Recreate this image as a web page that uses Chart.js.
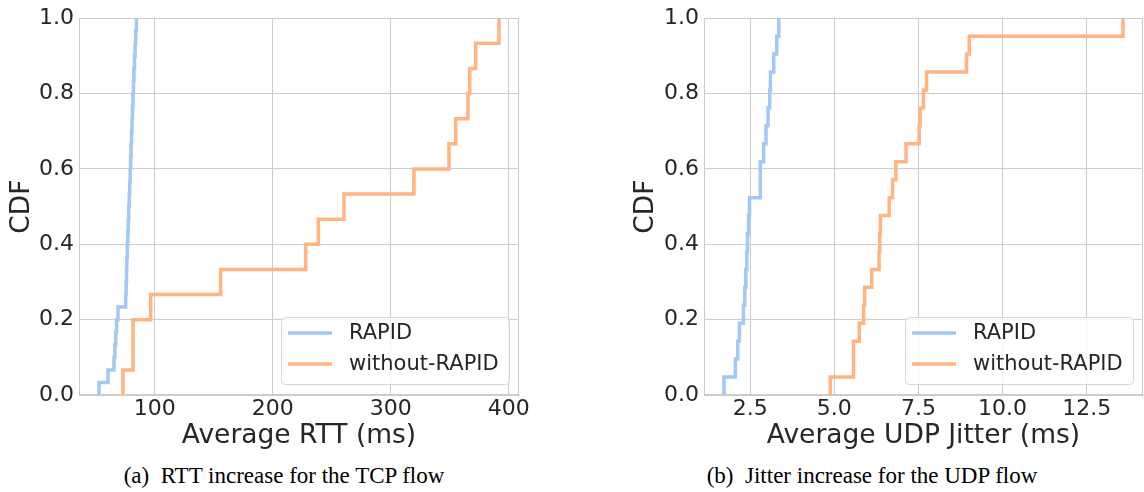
<!DOCTYPE html>
<html><head><meta charset="utf-8">
<script src="https://cdn.jsdelivr.net/npm/chart.js@4"></script>
<style>
html,body{margin:0;padding:0;background:#fff;width:1144px;height:492px;overflow:hidden}
canvas{position:absolute;top:0}
.cap{position:absolute;top:464px;font-family:"Liberation Serif",serif;font-size:23px;line-height:23px;color:#000;text-align:center;white-space:pre}
</style></head><body>
<canvas id="c1" width="560" height="460" style="left:0"></canvas>
<canvas id="c2" width="564" height="460" style="left:580px"></canvas>
<div class="cap" style="left:0;width:568px">(a)  RTT increase for the TCP flow</div>
<div class="cap" style="left:600px;width:544px">(b)  Jitter increase for the UDP flow</div>
<script>
// ---- data (sorted samples) ----
const seriesLabels = ['RAPID', 'without-RAPID'];
const seriesColors = ['#a1c9f4', '#ffb482'];

const rttRapid = [52.8, 60.4, 65.5, 66.3, 67.0, 67.7, 68.9, 75.4, 75.8, 76.1, 76.4, 76.8, 77.2, 77.6, 78.0,
                  78.4, 78.8, 79.2, 79.6, 80.0, 80.4, 80.8, 81.2, 81.6, 82.0, 82.4, 82.9, 83.4, 83.9, 84.5];
const rttWithout = [73.1, 81.6, 81.6, 96.6, 155.9, 228.0, 238.7, 260.4, 319.7, 349.4, 355.1, 365.5, 367.0, 372.0, 391.8];

const jitterRapid = [1.72, 2.06, 2.13, 2.18, 2.30, 2.34, 2.37, 2.40, 2.42, 2.45, 2.48, 2.80, 2.80, 2.90, 2.97,
                     3.03, 3.08, 3.10, 3.20, 3.29, 3.35];
const jitterWithout = [4.88, 5.57, 5.57, 5.74, 5.87, 5.90, 6.11, 6.33, 6.35, 6.37, 6.63, 6.73, 6.83, 7.13, 7.52,
                       7.55, 7.65, 7.74, 8.93, 9.01, 13.58];

const rttTicks = [100, 200, 300, 400];
const rttTickLabels = ['100', '200', '300', '400'];
const jitterTicks = [2.5, 5.0, 7.5, 10.0, 12.5];
const jitterTickLabels = ['2.5', '5.0', '7.5', '10.0', '12.5'];
const cdfTicks = [0, 0.2, 0.4, 0.6, 0.8, 1.0];
const cdfTickLabels = ['0.0', '0.2', '0.4', '0.6', '0.8', '1.0'];

const rttTitle = 'Average RTT (ms)';
const jitterTitle = 'Average UDP Jitter (ms)';
const yTitle = 'CDF';

// ---- helpers ----
function cdfPoints(xs) {
  const n = xs.length;
  return [{x: xs[0], y: 0}].concat(xs.map((x, i) => ({x: x, y: (i + 1) / n})));
}
function paddedRange(a, b) {
  const all = a.concat(b);
  const lo = Math.min(...all), hi = Math.max(...all);
  const m = (hi - lo) * 0.05;
  return [lo - m, hi + m];
}

const TXT = '#262626';
const GRID = '#cccccc';
const FAM = 'DejaVu Sans';

const framePlugin = {
  id: 'frame',
  beforeDatasetsDraw(chart) {
    const {ctx, chartArea: a} = chart;
    ctx.save();
    ctx.strokeStyle = GRID; ctx.lineWidth = 1;
    const l = Math.round(a.left) + 0.5, t = Math.round(a.top) + 0.5;
    const r = Math.round(a.right) - 0.5, b = Math.round(a.bottom) - 0.5;
    ctx.strokeRect(l, t, r - l, b - t);
    ctx.restore();
  }
};

const boxLegend = {
  id: 'boxLegend',
  afterDatasetsDraw(chart) {
    const {ctx, chartArea} = chart;
    ctx.save();
    ctx.font = '21px "' + FAM + '"';
    const items = chart.data.datasets.map(d => ({label: d.label, color: d.borderColor}));
    const tw = Math.max(...items.map(i => ctx.measureText(i.label).width));
    const w = Math.round(7 + 44 + 17 + tw + 10);
    const h = 67;
    const x = Math.round(chartArea.right - 10 - w);
    const y = Math.round(chartArea.bottom - 11 - h);
    ctx.beginPath();
    ctx.roundRect(x + 0.5, y + 0.5, w, h, 4);
    ctx.fillStyle = 'rgba(255,255,255,0.8)';
    ctx.fill();
    ctx.strokeStyle = 'rgba(204,204,204,0.8)';
    ctx.lineWidth = 1;
    ctx.stroke();
    items.forEach((it, i) => {
      const cy = y + 16 + i * 31;
      ctx.strokeStyle = it.color; ctx.lineWidth = 3.5; ctx.lineCap = 'butt';
      ctx.beginPath(); ctx.moveTo(x + 7, cy); ctx.lineTo(x + 51, cy); ctx.stroke();
      ctx.fillStyle = TXT; ctx.textBaseline = 'middle'; ctx.textAlign = 'left';
      ctx.fillText(it.label, x + 68, cy + 1);
    });
    ctx.restore();
  }
};

function makeChart(id, rapid, without, xTicks, xTickLabels, xTitle, yAxisWidth, padRight, yTitlePad) {
  const range = paddedRange(rapid, without);
  return new Chart(document.getElementById(id), {
    type: 'line',
    data: {
      datasets: [
        {label: seriesLabels[0], data: cdfPoints(rapid), borderColor: seriesColors[0], backgroundColor: seriesColors[0],
         borderWidth: 3.5, pointRadius: 0, stepped: true, fill: false, order: 1},
        {label: seriesLabels[1], data: cdfPoints(without), borderColor: seriesColors[1], backgroundColor: seriesColors[1],
         borderWidth: 3.5, pointRadius: 0, stepped: true, fill: false, order: 0}
      ]
    },
    options: {
      responsive: false,
      animation: false,
      layout: {padding: {left: 0, top: 17, right: padRight, bottom: 0}},
      plugins: {legend: {display: false}, tooltip: {enabled: false}},
      scales: {
        x: {
          type: 'linear', min: range[0], max: range[1],
          afterBuildTicks: s => { s.ticks = xTicks.map(v => ({value: v})); },
          ticks: {callback: v => xTickLabels[xTicks.indexOf(v)], font: {family: FAM, size: 22}, color: TXT,
                  padding: 1, maxRotation: 0, autoSkip: false},
          grid: {color: GRID, lineWidth: 1, drawTicks: false},
          border: {color: GRID, width: 1},
          title: {display: true, text: xTitle, font: {family: FAM, size: 26.5}, color: TXT, padding: {top: 0, bottom: 8}},
          afterFit: s => { s.height = 65; }
        },
        y: {
          type: 'linear', min: 0, max: 1,
          afterBuildTicks: s => { s.ticks = cdfTicks.map(v => ({value: v})); },
          ticks: {callback: v => cdfTickLabels[cdfTicks.indexOf(v)], font: {family: FAM, size: 22}, color: TXT,
                  padding: 5, autoSkip: false},
          grid: {color: GRID, lineWidth: 1, drawTicks: false},
          border: {color: GRID, width: 1},
          title: {display: true, text: yTitle, font: {family: FAM, size: 26.5}, color: TXT, padding: {top: yTitlePad, bottom: 0}},
          afterFit: s => { s.width = yAxisWidth; }
        }
      }
    },
    plugins: [framePlugin, boxLegend]
  });
}

makeChart('c1', rttRapid, rttWithout, rttTicks, rttTickLabels, rttTitle, 79, 41, 6);
makeChart('c2', jitterRapid, jitterWithout, jitterTicks, jitterTickLabels, jitterTitle, 124, 1, 50);
</script>
</body></html>
